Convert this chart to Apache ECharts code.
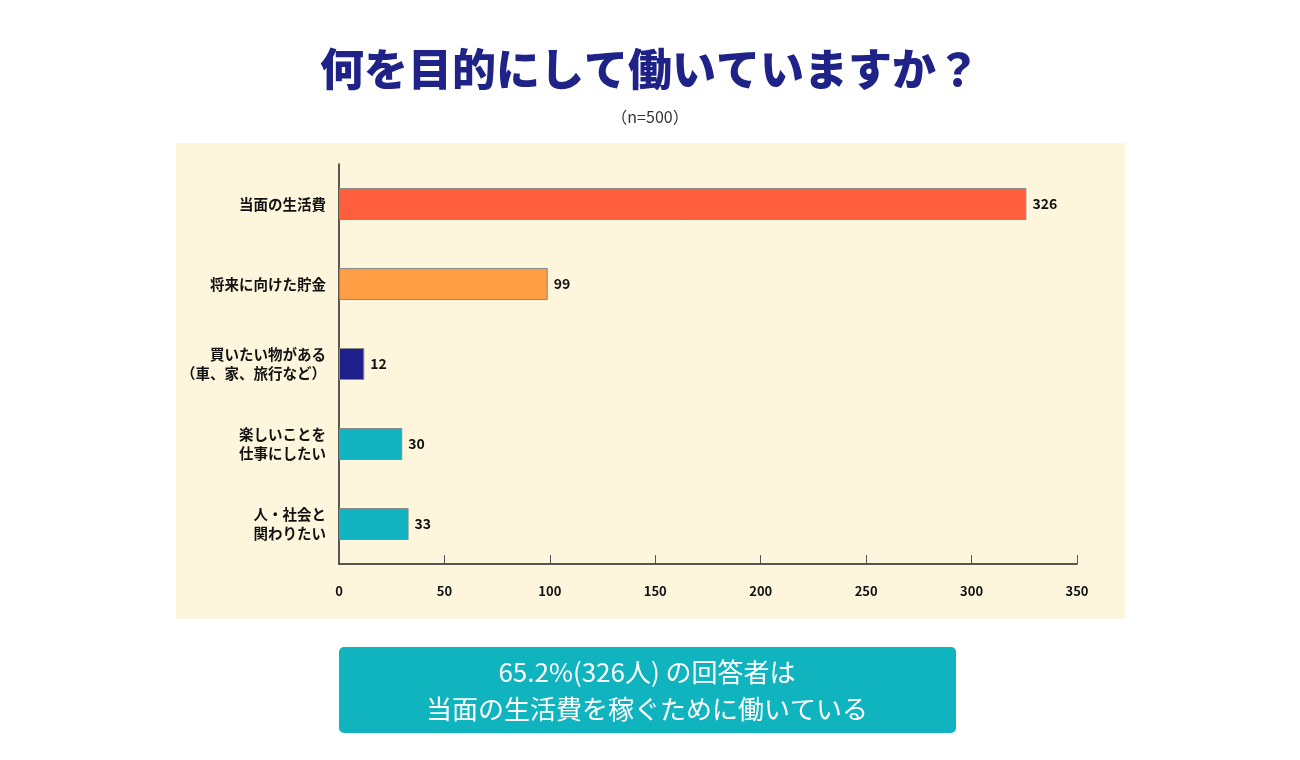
<!DOCTYPE html>
<html>
<head>
<meta charset="utf-8">
<style>
  html, body { margin: 0; padding: 0; background: #fff; }
  #main { width: 1300px; height: 760px; }
</style>
</head>
<body>
<div id="main"></div>
<script src="https://cdn.jsdelivr.net/npm/echarts@6/dist/echarts.min.js"></script>
<script type="text/javascript">
    // 回答項目と人数
    var categories = ['当面の生活費', '将来に向けた貯金', '買いたい物がある\n（車、家、旅行など）', '楽しいことを\n仕事にしたい', '人・社会と\n関わりたい'];
    var counts = [326, 99, 12, 30, 33];
    var barColors = ['#FF5F3D', '#FF9E44', '#1F1F8C', '#10B3BF', '#10B3BF'];
    var xTicks = [0, 50, 100, 150, 200, 250, 300, 350];
    var titleText = '何を目的にして働いていますか？';
    var subText = '（n=500）';
    var summaryText = '65.2%(326人) の回答者は\n当面の生活費を稼ぐために働いている';

    var font = '"Noto Sans CJK JP", "Noto Sans", sans-serif';
    var myChart = echarts.init(document.getElementById('main'));

    var option = {
        backgroundColor: '#ffffff',
        animation: false,
        textStyle: { fontFamily: font },
        title: [
            {
                text: titleText,
                left: 'center',
                top: 42,
                textStyle: { fontSize: 44, fontWeight: 900, color: '#1F2388', fontFamily: font }
            },
            {
                text: subText,
                left: 'center',
                top: 104,
                textStyle: { fontSize: 16, fontWeight: 'normal', color: '#333', fontFamily: font }
            }
        ],
        graphic: [
            {
                type: 'rect',
                z: -10,
                shape: { x: 176, y: 143, width: 949, height: 476 },
                style: { fill: '#FEF6DC' }
            },
            {
                type: 'rect',
                shape: { x: 339, y: 647, width: 617, height: 86, r: 5 },
                style: { fill: '#10B4BE' }
            },
            {
                type: 'text',
                x: 647,
                y: 691,
                style: {
                    text: summaryText,
                    fill: '#ffffff',
                    font: 'normal 26px ' + font,
                    lineHeight: 37,
                    align: 'center',
                    verticalAlign: 'middle'
                }
            }
        ],
        grid: {
            left: 339,
            right: 223,
            top: 164,
            bottom: 196,
            containLabel: false
        },
        xAxis: {
            type: 'value',
            min: 0,
            max: 350,
            interval: 50,
            axisLine: { show: true, lineStyle: { color: '#222', width: 1.5 } },
            axisTick: { show: true, inside: true, length: 9, lineStyle: { color: '#555' } },
            splitLine: { show: false },
            axisLabel: {
                margin: 21,
                color: '#111',
                fontSize: 13,
                fontWeight: 'bold',
                fontFamily: font,
                formatter: function (v) { return xTicks.indexOf(v) >= 0 ? String(v) : ''; }
            }
        },
        yAxis: {
            type: 'category',
            inverse: true,
            data: categories,
            axisLine: { show: true, lineStyle: { color: '#222', width: 1.5 } },
            axisTick: { show: false },
            axisLabel: {
                margin: 13,
                color: '#111',
                fontSize: 14.5,
                fontWeight: 'bold',
                lineHeight: 19,
                fontFamily: font,
                align: 'right'
            }
        },
        series: [
            {
                type: 'bar',
                barWidth: 32,
                data: counts.map(function (v, i) {
                    return { value: v, itemStyle: { color: barColors[i] } };
                }),
                itemStyle: { borderColor: '#8a8a8a', borderWidth: 1 },
                label: {
                    show: true,
                    position: 'right',
                    distance: 6,
                    color: '#111',
                    fontSize: 14,
                    fontWeight: 'bold',
                    fontFamily: font
                }
            }
        ]
    };

    myChart.setOption(option);
</script>
</body>
</html>
